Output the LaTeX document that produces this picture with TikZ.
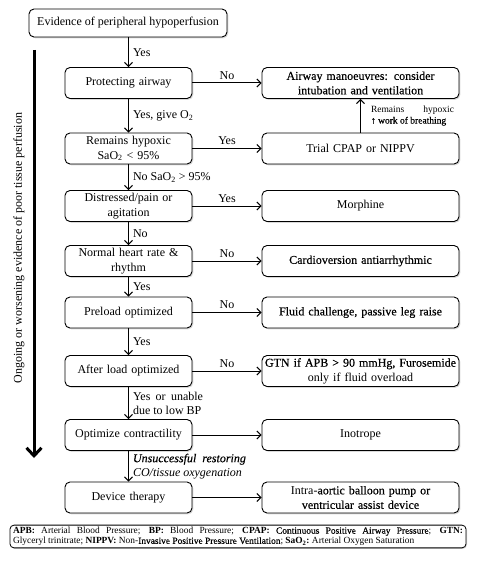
\documentclass[tikz,border=0pt]{standalone}
\usepackage{fontspec}
\setmainfont{Liberation Serif}
\newfontfamily\dk[FakeBold=0.4]{Liberation Serif}
\usetikzlibrary{arrows.meta,shadows}
\begin{document}
\begin{tikzpicture}[x=1pt,y=-1pt,
  box/.style={draw, line width=0.9pt, rounded corners=5pt, fill=white, align=center,
    font=\fontsize{12}{14.5}\selectfont, inner xsep=2pt, inner ysep=1pt,
    drop shadow={shadow xshift=1.3pt, shadow yshift=-1.3pt, opacity=0.3}},
  lbox/.style={box, minimum width=127pt, text width=123pt, minimum height=31pt},
  rbox/.style={box, minimum width=197pt, text width=193pt, minimum height=31pt},
  dk/.style={font=\dk\fontsize{12}{14.5}\selectfont},
  arr/.style={-{Straight Barb[length=4pt,width=8pt]}, line width=1pt},
  lab/.style={font=\fontsize{12}{14}\selectfont, inner sep=1pt}]
\useasboundingbox (0,0) rectangle (476,572);

% left main column
\node[box, minimum width=198pt, minimum height=28pt] (e) at (128,23) {Evidence of peripheral hypoperfusion};
\node[lbox] (p)  at (128.5,83)    {Protecting airway};
\node[lbox] (h)  at (128.5,148.5) {Remains hypoxic\\SaO\textsubscript{2} < 95\%};
\node[lbox] (d)  at (128.5,206)   {Distressed/pain or\\agitation};
\node[lbox] (n)  at (128.5,261)   {Normal heart rate \&\\rhythm};
\node[lbox] (pr) at (128.5,312.5) {Preload optimized};
\node[lbox] (al) at (128.5,371)   {After load optimized};
\node[lbox] (oc) at (128.5,435)   {Optimize contractility};
\node[lbox] (dt) at (128.5,497.5) {Device therapy};

% right column
\node[rbox,dk] (a)  at (360.5,83)    {Airway manoeuvres: consider\\intubation and ventilation};
\node[rbox]    (t)  at (360.5,148.5) {Trial CPAP or NIPPV};
\node[rbox]    (m)  at (360.5,206)   {Morphine};
\node[rbox,dk] (c)  at (360.5,261)   {Cardioversion antiarrhythmic};
\node[rbox,dk] (f)  at (360.5,312.5) {Fluid challenge, passive leg raise};
\node[rbox]    (g)  at (360.5,371)   {{\dk GTN if APB > 90 mmHg, Furosemide}\\only if fluid overload};
\node[rbox]    (i)  at (360.5,435)   {Inotrope};
\node[rbox]    (ia) at (360.5,497.5) {Intra-{\dk aortic balloon pump or}\\{\dk ventricular assist device}};

% vertical connectors
\draw[arr] (p.north |- e.south) -- node[lab,right=3pt]{Yes} (p.north);
\draw[arr] (p) -- node[lab,right=3pt]{Yes, give O\textsubscript{2}} (h);
\draw[arr] (h) -- node[lab,right=3pt]{No SaO\textsubscript{2} > 95\%} (d);
\draw[arr] (d) -- node[lab,right=3pt]{No} (n);
\draw[arr] (n) -- node[lab,right=3pt]{Yes} (pr);
\draw[arr] (pr) -- node[lab,right=3pt]{Yes} (al);
\draw[arr] (al) -- node[lab,right=3pt,align=left,font=\fontsize{12}{14}\selectfont]{\makebox[70pt][s]{\spaceskip=3pt plus 20pt\xspaceskip=3pt plus 20pt Yes or unable}\\due to low BP} (oc);
\draw[arr] (oc) -- node[lab,right=3pt,align=left,font=\fontsize{12}{14}\selectfont\itshape]{{\dk\itshape Unsuccessful\ \ restoring}\\CO/tissue oxygenation} (dt);

% horizontal connectors
\draw[arr] (p) -- node[lab,above=2pt]{No} (a);
\draw[arr] (h) -- node[lab,above=2pt]{Yes} (t);
\draw[arr] (d) -- node[lab,above=2pt]{Yes} (m);
\draw[arr] (n) -- node[lab,above=2pt]{No} (c);
\draw[arr] (pr) -- node[lab,above=2pt]{No} (f);
\draw[arr] (al) -- node[lab,above=2pt]{No} (g);
\draw[arr] (oc) -- (i);
\draw[arr] (dt) -- (ia);

% feedback arrow
\draw[arr] (t.north) -- node[right=10pt, inner sep=0pt, align=left, font=\fontsize{9.5}{11}\selectfont]{\makebox[83pt][s]{\spaceskip=2.5pt plus 40pt Remains hypoxic}\\{\dk ↑ work of breathing}} (a.south);

% left long arrow
\coordinate (ls) at (34,50);
\coordinate (le) at (34,458);
\draw[line width=3pt, -{Straight Barb[length=8pt,width=15pt]}] (ls) -- (le);
\node[rotate=90, font=\fontsize{12}{14}\selectfont] (ol) at (19,248) {Ongoing or worsening evidence of poor tissue perfusion};

% legend
\node[draw, rounded corners=4pt, line width=0.8pt, fill=white, text width=450pt, align=left,
  font=\fontsize{9.4}{10.2}\selectfont, inner xsep=3pt, inner ysep=2pt,
  drop shadow={shadow xshift=1pt, shadow yshift=-1pt, opacity=0.3}] (lg) at (238,536.5)
  {\spaceskip=2.35pt\xspaceskip=2.35pt
   \makebox[450pt][s]{\spaceskip=2.35pt plus 30pt\xspaceskip=2.35pt plus 30pt\textbf{APB:} Arterial Blood Pressure; \textbf{BP:} Blood Pressure; \textbf{CPAP:} {\dk Continuous Positive Airway Pressure}; \textbf{GTN:}}\\
   Glyceryl trinitrate; \textbf{NIPPV:} Non-{\dk Invasive Positive Pressure Ventilation}; \textbf{SaO\textsubscript{2}:} Arterial Oxygen Saturation};
\end{tikzpicture}
\end{document}
